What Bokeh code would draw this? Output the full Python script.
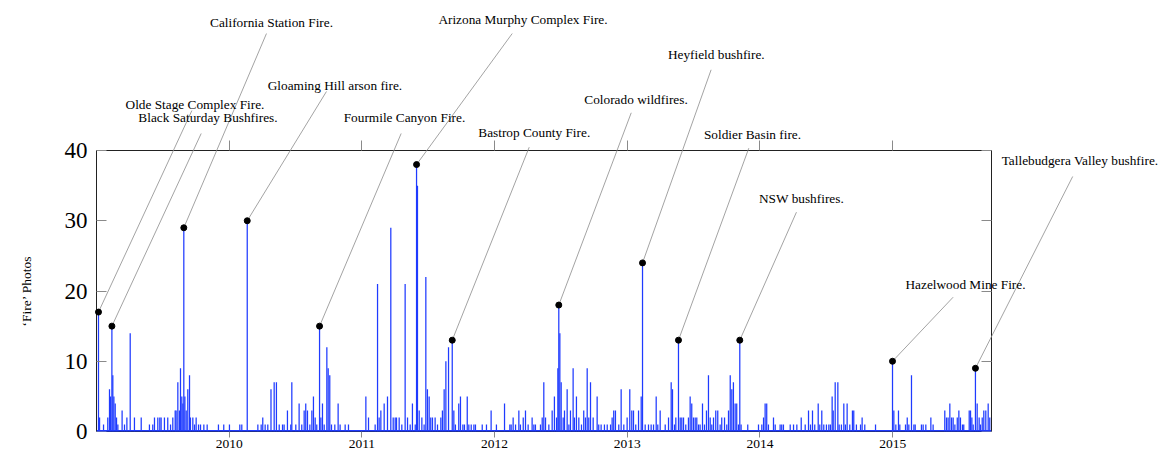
from bokeh.plotting import figure
from bokeh.models import (Range1d, FixedTicker, LinearAxis, Span,
                          CustomJSTickFormatter)
from bokeh.core.properties import value
from bokeh.embed import file_html
from bokeh.resources import INLINE

# ---- data: daily 'Fire' photo counts (only non-zero days listed) ----
years = [
    2009.015, 2009.023, 2009.053, 2009.085, 2009.098, 2009.106, 2009.116, 2009.123, 2009.131, 2009.141,
    2009.151, 2009.161, 2009.193, 2009.211, 2009.229, 2009.254, 2009.286, 2009.337, 2009.399, 2009.424,
    2009.437, 2009.462, 2009.477, 2009.487, 2009.512, 2009.537, 2009.558, 2009.575, 2009.593, 2009.600,
    2009.613, 2009.625, 2009.633, 2009.643, 2009.651, 2009.658, 2009.666, 2009.676, 2009.688, 2009.701,
    2009.708, 2009.726, 2009.739, 2009.751, 2009.769, 2009.784, 2009.809, 2009.834, 2009.919, 2009.959,
    2010.002, 2010.080, 2010.095, 2010.136, 2010.216, 2010.241, 2010.253, 2010.271, 2010.291, 2010.315,
    2010.339, 2010.356, 2010.377, 2010.402, 2010.414, 2010.439, 2010.464, 2010.472, 2010.502, 2010.527,
    2010.547, 2010.565, 2010.577, 2010.590, 2010.608, 2010.623, 2010.635, 2010.648, 2010.660, 2010.681,
    2010.691, 2010.703, 2010.716, 2010.736, 2010.746, 2010.758, 2010.771, 2010.796, 2010.821, 2010.836,
    2010.874, 2010.899, 2011.030, 2011.050, 2011.100, 2011.118, 2011.130, 2011.143, 2011.168, 2011.193,
    2011.218, 2011.236, 2011.251, 2011.261, 2011.281, 2011.301, 2011.326, 2011.344, 2011.364, 2011.381,
    2011.402, 2011.412, 2011.419, 2011.432, 2011.452, 2011.469, 2011.482, 2011.494, 2011.507, 2011.519,
    2011.532, 2011.552, 2011.570, 2011.595, 2011.607, 2011.620, 2011.633, 2011.653, 2011.681, 2011.693,
    2011.705, 2011.730, 2011.743, 2011.761, 2011.773, 2011.794, 2011.806, 2011.824, 2011.844, 2011.856,
    2011.907, 2011.939, 2011.974, 2012.014, 2012.075, 2012.115, 2012.125, 2012.140, 2012.158, 2012.183,
    2012.195, 2012.216, 2012.233, 2012.253, 2012.283, 2012.296, 2012.308, 2012.346, 2012.359, 2012.371,
    2012.384, 2012.409, 2012.434, 2012.451, 2012.467, 2012.477, 2012.484, 2012.492, 2012.502, 2012.517,
    2012.527, 2012.547, 2012.560, 2012.572, 2012.592, 2012.602, 2012.617, 2012.635, 2012.655, 2012.672,
    2012.685, 2012.698, 2012.710, 2012.723, 2012.743, 2012.773, 2012.785, 2012.803, 2012.828, 2012.849,
    2012.874, 2012.886, 2012.898, 2012.911, 2012.936, 2012.954, 2012.974, 2012.999, 2013.019, 2013.034,
    2013.047, 2013.064, 2013.085, 2013.105, 2013.115, 2013.135, 2013.160, 2013.180, 2013.198, 2013.218,
    2013.230, 2013.248, 2013.286, 2013.311, 2013.331, 2013.341, 2013.356, 2013.366, 2013.386, 2013.399,
    2013.411, 2013.424, 2013.441, 2013.461, 2013.474, 2013.486, 2013.499, 2013.512, 2013.524, 2013.537,
    2013.549, 2013.567, 2013.582, 2013.597, 2013.612, 2013.625, 2013.637, 2013.650, 2013.667, 2013.682,
    2013.700, 2013.712, 2013.733, 2013.750, 2013.763, 2013.776, 2013.788, 2013.800, 2013.813, 2013.825,
    2013.838, 2013.848, 2013.858, 2013.908, 2013.989, 2014.014, 2014.027, 2014.039, 2014.051, 2014.064,
    2014.102, 2014.115, 2014.152, 2014.164, 2014.177, 2014.228, 2014.253, 2014.278, 2014.311, 2014.341,
    2014.366, 2014.381, 2014.396, 2014.413, 2014.439, 2014.451, 2014.466, 2014.481, 2014.501, 2014.519,
    2014.531, 2014.544, 2014.552, 2014.567, 2014.587, 2014.597, 2014.614, 2014.632, 2014.644, 2014.657,
    2014.677, 2014.697, 2014.707, 2014.727, 2014.758, 2014.770, 2014.790, 2014.871, 2014.999, 2015.009,
    2015.024, 2015.044, 2015.054, 2015.097, 2015.110, 2015.122, 2015.142, 2015.160, 2015.170, 2015.217,
    2015.230, 2015.250, 2015.288, 2015.305, 2015.393, 2015.406, 2015.418, 2015.431, 2015.444, 2015.456,
    2015.469, 2015.487, 2015.499, 2015.511, 2015.526, 2015.536, 2015.577, 2015.587, 2015.597, 2015.607,
    2015.624, 2015.637, 2015.652, 2015.662, 2015.675, 2015.687, 2015.702, 2015.720, 2015.732,
]
counts = [
    17, 2, 1, 2, 6, 5, 15, 8, 5, 4,
    2, 1, 3, 1, 2, 14, 2, 2, 1, 1,
    2, 2, 2, 2, 2, 2, 1, 2, 3, 3,
    7, 3, 9, 5, 4, 29, 5, 3, 6, 8,
    2, 2, 1, 2, 1, 1, 1, 1, 1, 1,
    1, 1, 1, 30, 1, 1, 2, 1, 1, 6,
    7, 7, 1, 1, 1, 3, 1, 7, 1, 4,
    1, 3, 4, 3, 1, 3, 5, 2, 1, 15,
    2, 4, 1, 12, 9, 8, 1, 1, 4, 1,
    1, 1, 5, 2, 1, 21, 2, 3, 4, 5,
    29, 2, 2, 2, 2, 1, 21, 2, 1, 4,
    1, 38, 35, 3, 2, 1, 22, 6, 5, 2,
    2, 2, 1, 2, 3, 6, 10, 12, 13, 3,
    1, 4, 5, 1, 1, 5, 1, 1, 1, 1,
    1, 1, 3, 1, 4, 1, 1, 2, 1, 3,
    1, 2, 3, 1, 2, 1, 1, 1, 2, 7,
    2, 1, 3, 5, 2, 9, 18, 14, 7, 2,
    3, 6, 1, 3, 9, 2, 5, 2, 1, 3,
    2, 9, 2, 7, 2, 5, 1, 1, 1, 1,
    1, 2, 3, 3, 1, 6, 1, 2, 6, 3,
    3, 1, 3, 5, 24, 1, 1, 1, 1, 5,
    1, 3, 1, 2, 7, 6, 1, 2, 13, 2,
    2, 2, 1, 2, 5, 4, 2, 2, 2, 1,
    1, 4, 1, 3, 8, 2, 1, 2, 3, 3,
    1, 2, 2, 1, 3, 8, 6, 7, 4, 4,
    1, 13, 1, 1, 1, 1, 2, 4, 4, 1,
    2, 1, 1, 1, 1, 1, 1, 1, 2, 1,
    3, 1, 3, 1, 4, 1, 3, 1, 1, 1,
    1, 5, 3, 7, 7, 1, 1, 4, 1, 4,
    1, 3, 3, 1, 1, 2, 1, 1, 10, 3,
    1, 3, 1, 1, 2, 1, 8, 1, 1, 1,
    1, 1, 2, 1, 3, 2, 2, 4, 2, 2,
    1, 2, 3, 2, 1, 1, 3, 3, 2, 1,
    9, 4, 2, 1, 2, 3, 3, 4, 2,
]

# ---- annotated events ----
event_names = [
    "Olde Stage Complex Fire.", "Black Saturday Bushfires.", "California Station Fire.",
    "Gloaming Hill arson fire.", "Fourmile Canyon Fire.", "Arizona Murphy Complex Fire.",
    "Bastrop County Fire.", "Colorado wildfires.", "Heyfield bushfire.",
    "Soldier Basin fire.", "NSW bushfires.", "Hazelwood Mine Fire.",
    "Tallebudgera Valley bushfire.",
]
event_years = [2009.015, 2009.116, 2009.658, 2010.136, 2010.681, 2011.412, 2011.681,
               2012.484, 2013.115, 2013.386, 2013.848, 2014.999, 2015.624]
event_counts = [17, 15, 29, 30, 15, 38, 13, 18, 24, 13, 13, 10, 9]

x_ticks = [2010, 2011, 2012, 2013, 2014, 2015]
y_ticks = [0, 10, 20, 30, 40]

# ---- layout (not data) ----
# callout text anchors and leader-line ends, in the chart's own units
label_x = [2009.742, 2009.840, 2010.319, 2010.797, 2011.321, 2012.214, 2012.299,
           2013.066, 2013.671, 2013.944, 2014.313, 2015.549, 2016.412]
label_y = [46.55, 44.70, 58.22, 49.25, 44.70, 58.65, 42.61,
           47.26, 53.67, 42.24, 33.17, 20.93, 38.58]
leader_x = [2009.719, 2009.789, 2010.281, 2010.733, 2011.296, 2012.133, 2012.261,
            2013.030, 2013.632, 2013.916, 2014.275, 2015.456, 2016.357]
leader_y = [45.69, 42.42, 56.65, 48.40, 42.42, 56.65, 40.47,
            45.37, 51.49, 40.33, 31.22, 19.12, 36.30]

W, H = 1164, 455
FRAME_L, FRAME_R, FRAME_T, FRAME_B = 96, 991, 150, 431
X0, X1, Y0, Y1 = 2009.0, 2015.745, 0, 40

FONT = "Liberation Serif"
BLUE = "#1f3bff"

# ---------------- main chart ----------------
p = figure(width=W, height=H, output_backend="svg", toolbar_location=None,
           x_range=Range1d(X0, X1), y_range=Range1d(Y0, Y1),
           x_axis_location=None, y_axis_location=None,
           min_border_left=FRAME_L, min_border_right=W - FRAME_R,
           min_border_top=FRAME_T, min_border_bottom=H - FRAME_B)
p.grid.visible = False
p.outline_line_color = "#222222"
p.outline_line_width = 1
p.background_fill_color = "white"
p.border_fill_color = "white"

empty = CustomJSTickFormatter(code="return ''")

xb = LinearAxis(ticker=FixedTicker(ticks=x_ticks))
xt = LinearAxis(ticker=FixedTicker(ticks=x_ticks), formatter=empty)
yl = LinearAxis(ticker=FixedTicker(ticks=y_ticks), axis_label="\u2018Fire\u2019 Photos")
yr = LinearAxis(ticker=FixedTicker(ticks=y_ticks), formatter=empty)
for ax in (xb, xt, yl, yr):
    ax.axis_line_color = None
    ax.major_tick_line_color = "#8a8a8a"
    ax.minor_tick_line_color = None
    ax.major_label_text_font = FONT
    ax.major_label_text_color = "black"
xb.major_tick_out = 6
xb.major_tick_in = 0
xb.major_label_standoff = 2
xb.major_label_text_font_size = "13.5px"
xt.major_tick_out = 10
xt.major_tick_in = 0
xt.major_label_standoff = 0
xt.major_label_text_font_size = "1px"
yl.major_tick_in = 10
yl.major_tick_out = 0
yl.major_label_standoff = 9
yl.major_label_text_font_size = "23px"
yl.axis_label_text_font = FONT
yl.axis_label_text_font_size = "13.5px"
yl.axis_label_text_font_style = "normal"
yl.axis_label_text_color = "black"
yl.axis_label_standoff = 28
yr.major_tick_in = 10
yr.major_tick_out = 0
yr.major_label_standoff = 0
yr.major_label_text_font_size = "1px"
p.add_layout(xb, "below")
p.add_layout(xt, "above")
p.add_layout(yl, "left")
p.add_layout(yr, "right")

# series: zero baseline plus one spike per listed day
p.add_layout(Span(location=0, dimension="width", line_color=BLUE, line_width=3))
p.segment(x0=years, y0=[0] * len(counts), x1=years, y1=counts,
          line_color=BLUE, line_width=1.25)

# ---------------- transparent overlay for callouts ----------------
# same data units as the main chart, but its frame covers the whole canvas
ppx = (FRAME_R - FRAME_L) / (X1 - X0)
ppy = (FRAME_B - FRAME_T) / (Y1 - Y0)
q = figure(width=W, height=H, output_backend="svg", toolbar_location=None,
           x_range=Range1d(X0 - FRAME_L / ppx, X1 + (W - FRAME_R) / ppx),
           y_range=Range1d(Y0 - (H - FRAME_B) / ppy, Y1 + FRAME_T / ppy),
           x_axis_location=None, y_axis_location=None, min_border=0,
           styles={"position": "absolute", "left": "0px", "top": "0px"})
q.grid.visible = False
q.outline_line_color = None
q.background_fill_alpha = 0
q.border_fill_alpha = 0

q.segment(x0=event_years, y0=event_counts, x1=leader_x, y1=leader_y,
          line_color="#8c8c8c", line_width=0.8)
q.text(x=label_x, y=label_y, text=event_names, text_align="center",
       text_baseline="middle", text_font=value(FONT), text_font_size="13.3px",
       text_color="black")
q.scatter(event_years, event_counts, size=6, color="black")

open("out.html", "w").write(file_html([p, q], INLINE))
